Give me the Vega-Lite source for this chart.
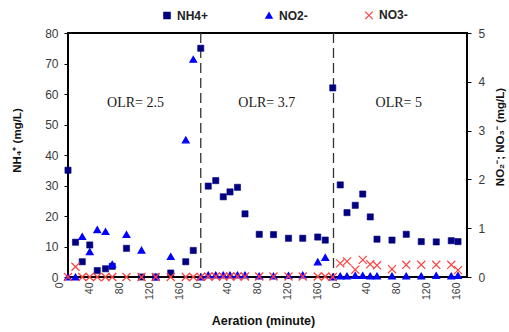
{
  "$schema": "https://vega.github.io/schema/vega-lite/v6.json",
  "width": 399,
  "height": 244,
  "autosize": {"type": "none"},
  "padding": {"left": 68, "top": 33, "right": 42, "bottom": 55},
  "background": "white",
  "config": {
    "font": "Liberation Sans",
    "view": {"stroke": "#000000", "strokeWidth": 2},
    "axis": {"grid": false, "domain": false, "labelFont": "Liberation Sans", "labelColor": "#3a3a3a", "titleFont": "Liberation Sans", "titleColor": "#111111", "titleFontWeight": "bold", "tickColor": "#000000"},
    "legend": {"orient": "none", "legendX": 93, "legendY": -24, "direction": "horizontal", "columnPadding": 54, "labelFontSize": 12, "labelFontWeight": "bold", "labelColor": "#222222", "labelFont": "Liberation Sans", "symbolSize": 40, "labelOffset": 4, "padding": 0, "symbolStrokeWidth": 1.2}
  },
  "datasets": {
    "nh4": [
      {"time": 12, "value": 35, "series": "NH4+"},
      {"time": 22, "value": 11.4, "series": "NH4+"},
      {"time": 31, "value": 5.0, "series": "NH4+"},
      {"time": 41, "value": 10.5, "series": "NH4+"},
      {"time": 51, "value": 2.1, "series": "NH4+"},
      {"time": 62, "value": 2.7, "series": "NH4+"},
      {"time": 71, "value": 3.5, "series": "NH4+"},
      {"time": 90, "value": 9.4, "series": "NH4+"},
      {"time": 110, "value": 0, "series": "NH4+"},
      {"time": 129, "value": 0, "series": "NH4+"},
      {"time": 149, "value": 1.3, "series": "NH4+"},
      {"time": 169, "value": 5.0, "series": "NH4+"},
      {"time": 179, "value": 8.7, "series": "NH4+"},
      {"time": 189, "value": 75, "series": "NH4+"},
      {"time": 199, "value": 29.8, "series": "NH4+"},
      {"time": 209, "value": 31.6, "series": "NH4+"},
      {"time": 219, "value": 26.3, "series": "NH4+"},
      {"time": 228, "value": 27.9, "series": "NH4+"},
      {"time": 238, "value": 29.4, "series": "NH4+"},
      {"time": 248, "value": 20.7, "series": "NH4+"},
      {"time": 267, "value": 14.0, "series": "NH4+"},
      {"time": 286, "value": 13.9, "series": "NH4+"},
      {"time": 306, "value": 12.7, "series": "NH4+"},
      {"time": 325, "value": 12.7, "series": "NH4+"},
      {"time": 345, "value": 13.1, "series": "NH4+"},
      {"time": 355, "value": 12.1, "series": "NH4+"},
      {"time": 365, "value": 62, "series": "NH4+"},
      {"time": 375, "value": 30.2, "series": "NH4+"},
      {"time": 384, "value": 21.1, "series": "NH4+"},
      {"time": 395, "value": 23.5, "series": "NH4+"},
      {"time": 405, "value": 27.2, "series": "NH4+"},
      {"time": 415, "value": 19.7, "series": "NH4+"},
      {"time": 424, "value": 12.4, "series": "NH4+"},
      {"time": 444, "value": 12.1, "series": "NH4+"},
      {"time": 463, "value": 14.0, "series": "NH4+"},
      {"time": 483, "value": 11.6, "series": "NH4+"},
      {"time": 503, "value": 11.5, "series": "NH4+"},
      {"time": 523, "value": 11.9, "series": "NH4+"},
      {"time": 532, "value": 11.6, "series": "NH4+"}
    ],
    "nox": [
      {"time": 12, "value": 0, "series": "NO2-"},
      {"time": 22, "value": 0, "series": "NO2-"},
      {"time": 31, "value": 0.83, "series": "NO2-"},
      {"time": 41, "value": 0.52, "series": "NO2-"},
      {"time": 51, "value": 0.97, "series": "NO2-"},
      {"time": 62, "value": 0.93, "series": "NO2-"},
      {"time": 71, "value": 0.26, "series": "NO2-"},
      {"time": 90, "value": 0.87, "series": "NO2-"},
      {"time": 110, "value": 0.55, "series": "NO2-"},
      {"time": 129, "value": 0, "series": "NO2-"},
      {"time": 149, "value": 0.42, "series": "NO2-"},
      {"time": 169, "value": 2.81, "series": "NO2-"},
      {"time": 179, "value": 4.46, "series": "NO2-"},
      {"time": 189, "value": 0, "series": "NO2-"},
      {"time": 199, "value": 0.04, "series": "NO2-"},
      {"time": 209, "value": 0.04, "series": "NO2-"},
      {"time": 219, "value": 0.04, "series": "NO2-"},
      {"time": 228, "value": 0.04, "series": "NO2-"},
      {"time": 238, "value": 0.04, "series": "NO2-"},
      {"time": 248, "value": 0.04, "series": "NO2-"},
      {"time": 267, "value": 0.02, "series": "NO2-"},
      {"time": 286, "value": 0.02, "series": "NO2-"},
      {"time": 306, "value": 0.03, "series": "NO2-"},
      {"time": 325, "value": 0.04, "series": "NO2-"},
      {"time": 345, "value": 0.31, "series": "NO2-"},
      {"time": 355, "value": 0.40, "series": "NO2-"},
      {"time": 365, "value": 0, "series": "NO2-"},
      {"time": 375, "value": 0.02, "series": "NO2-"},
      {"time": 384, "value": 0.02, "series": "NO2-"},
      {"time": 395, "value": 0.03, "series": "NO2-"},
      {"time": 405, "value": 0.03, "series": "NO2-"},
      {"time": 415, "value": 0.02, "series": "NO2-"},
      {"time": 424, "value": 0.02, "series": "NO2-"},
      {"time": 444, "value": 0.02, "series": "NO2-"},
      {"time": 463, "value": 0.02, "series": "NO2-"},
      {"time": 483, "value": 0.02, "series": "NO2-"},
      {"time": 503, "value": 0.03, "series": "NO2-"},
      {"time": 523, "value": 0.02, "series": "NO2-"},
      {"time": 532, "value": 0.03, "series": "NO2-"},
      {"time": 12, "value": 0, "series": "NO3-"},
      {"time": 22, "value": 0.21, "series": "NO3-"},
      {"time": 31, "value": 0, "series": "NO3-"},
      {"time": 41, "value": 0, "series": "NO3-"},
      {"time": 51, "value": 0, "series": "NO3-"},
      {"time": 62, "value": 0, "series": "NO3-"},
      {"time": 71, "value": 0, "series": "NO3-"},
      {"time": 90, "value": 0, "series": "NO3-"},
      {"time": 110, "value": 0, "series": "NO3-"},
      {"time": 129, "value": 0, "series": "NO3-"},
      {"time": 149, "value": 0, "series": "NO3-"},
      {"time": 169, "value": 0, "series": "NO3-"},
      {"time": 179, "value": 0, "series": "NO3-"},
      {"time": 189, "value": 0, "series": "NO3-"},
      {"time": 199, "value": 0.01, "series": "NO3-"},
      {"time": 209, "value": 0.01, "series": "NO3-"},
      {"time": 219, "value": 0.01, "series": "NO3-"},
      {"time": 228, "value": 0.01, "series": "NO3-"},
      {"time": 238, "value": 0.01, "series": "NO3-"},
      {"time": 248, "value": 0.01, "series": "NO3-"},
      {"time": 267, "value": 0.01, "series": "NO3-"},
      {"time": 286, "value": 0.01, "series": "NO3-"},
      {"time": 306, "value": 0.01, "series": "NO3-"},
      {"time": 325, "value": 0.01, "series": "NO3-"},
      {"time": 345, "value": 0.01, "series": "NO3-"},
      {"time": 355, "value": 0.01, "series": "NO3-"},
      {"time": 365, "value": 0, "series": "NO3-"},
      {"time": 375, "value": 0.28, "series": "NO3-"},
      {"time": 384, "value": 0.32, "series": "NO3-"},
      {"time": 395, "value": 0.15, "series": "NO3-"},
      {"time": 405, "value": 0.35, "series": "NO3-"},
      {"time": 415, "value": 0.26, "series": "NO3-"},
      {"time": 424, "value": 0.24, "series": "NO3-"},
      {"time": 444, "value": 0.16, "series": "NO3-"},
      {"time": 463, "value": 0.25, "series": "NO3-"},
      {"time": 483, "value": 0.25, "series": "NO3-"},
      {"time": 503, "value": 0.25, "series": "NO3-"},
      {"time": 523, "value": 0.25, "series": "NO3-"},
      {"time": 532, "value": 0.14, "series": "NO3-"}
    ],
    "dividers": [{"time": 189}, {"time": 366}],
    "olr": [
      {"time": 102, "value": 57, "label": "OLR= 2.5"},
      {"time": 277, "value": 57, "label": "OLR= 3.7"},
      {"time": 453, "value": 57, "label": "OLR= 5"}
    ]
  },
  "encoding": {
    "x": {
      "field": "time",
      "type": "quantitative",
      "scale": {"domain": [0, 544], "rangeMin": -9, "rangeMax": 399, "nice": false, "zero": false},
      "axis": {
        "values": [0, 40, 80, 120, 160, 185, 225, 265, 305, 345, 370, 410, 450, 490, 530],
        "labelExpr": "datum.value >= 370 ? datum.value - 370 : (datum.value >= 185 ? datum.value - 185 : datum.value)",
        "labelAngle": 270,
        "ticks": false,
        "tickSize": 0,
        "labelPadding": 5,
        "labelFontSize": 10.5,
        "title": "Aeration (minute)",
        "titleFontSize": 12.5,
        "titleY": 43.5,
        "titleBaseline": "middle"
      }
    }
  },
  "layer": [
    {
      "data": {"name": "dividers"},
      "mark": {"type": "rule", "strokeDash": [10, 5], "color": "#333333", "strokeWidth": 1.3}
    },
    {
      "data": {"name": "nh4"},
      "mark": {"type": "point", "filled": true, "opacity": 1, "size": 38, "strokeWidth": 0.6},
      "encoding": {
        "y": {
          "field": "value",
          "type": "quantitative",
          "scale": {"domain": [0, 80], "nice": false},
          "axis": {
            "orient": "left",
            "values": [0, 10, 20, 30, 40, 50, 60, 70, 80],
            "tickSize": 4,
            "labelPadding": 6,
            "labelFontSize": 12,
            "title": "NH₄⁺ (mg/L)",
            "titleFontSize": 11.5,
            "titleAngle": 270,
            "titleX": -51,
            "titleY": 107,
            "titleBaseline": "middle",
            "titleAlign": "center"
          }
        },
        "fill": {"field": "series", "type": "nominal", "title": null, "scale": {"domain": ["NH4+", "NO2-", "NO3-"], "range": ["#000080", "#0000FF", "#FF4040"]}},
        "stroke": {"field": "series", "type": "nominal", "title": null, "scale": {"domain": ["NH4+", "NO2-", "NO3-"], "range": ["#000080", "#0000FF", "#FF4040"]}},
        "shape": {"field": "series", "type": "nominal", "title": null, "scale": {"domain": ["NH4+", "NO2-", "NO3-"], "range": ["square", "triangle-up", "M-1.2,-1.2L1.2,1.2M1.2,-1.2L-1.2,1.2"]}}
      }
    },
    {
      "data": {"name": "nox"},
      "mark": {"type": "point", "filled": true, "opacity": 1, "size": 45, "strokeWidth": 1.2},
      "encoding": {
        "y": {
          "field": "value",
          "type": "quantitative",
          "scale": {"domain": [0, 5], "nice": false},
          "axis": {
            "orient": "right",
            "values": [0, 1, 2, 3, 4, 5],
            "tickSize": 4,
            "labelPadding": 7,
            "labelFontSize": 12,
            "title": "NO₂⁻; NO₃⁻ (mg/L)",
            "titleFontSize": 11.5,
            "titleAngle": 270,
            "titleX": 33,
            "titleY": 103.5,
            "titleBaseline": "middle",
            "titleAlign": "center"
          }
        },
        "fill": {"field": "series", "type": "nominal", "title": null, "scale": {"domain": ["NH4+", "NO2-", "NO3-"], "range": ["#000080", "#0000FF", "#FF4040"]}},
        "stroke": {"field": "series", "type": "nominal", "title": null, "scale": {"domain": ["NH4+", "NO2-", "NO3-"], "range": ["#000080", "#0000FF", "#FF4040"]}},
        "shape": {"field": "series", "type": "nominal", "title": null, "scale": {"domain": ["NH4+", "NO2-", "NO3-"], "range": ["square", "triangle-up", "M-1.2,-1.2L1.2,1.2M1.2,-1.2L-1.2,1.2"]}}
      }
    },
    {
      "data": {"name": "olr"},
      "mark": {"type": "text", "font": "Liberation Serif", "fontSize": 14, "color": "#1a1a1a", "align": "center", "baseline": "middle"},
      "encoding": {
        "y": {"field": "value", "type": "quantitative", "scale": {"domain": [0, 80], "nice": false}, "axis": null},
        "text": {"field": "label", "type": "nominal"}
      }
    }
  ],
  "resolve": {"scale": {"y": "independent"}}
}
